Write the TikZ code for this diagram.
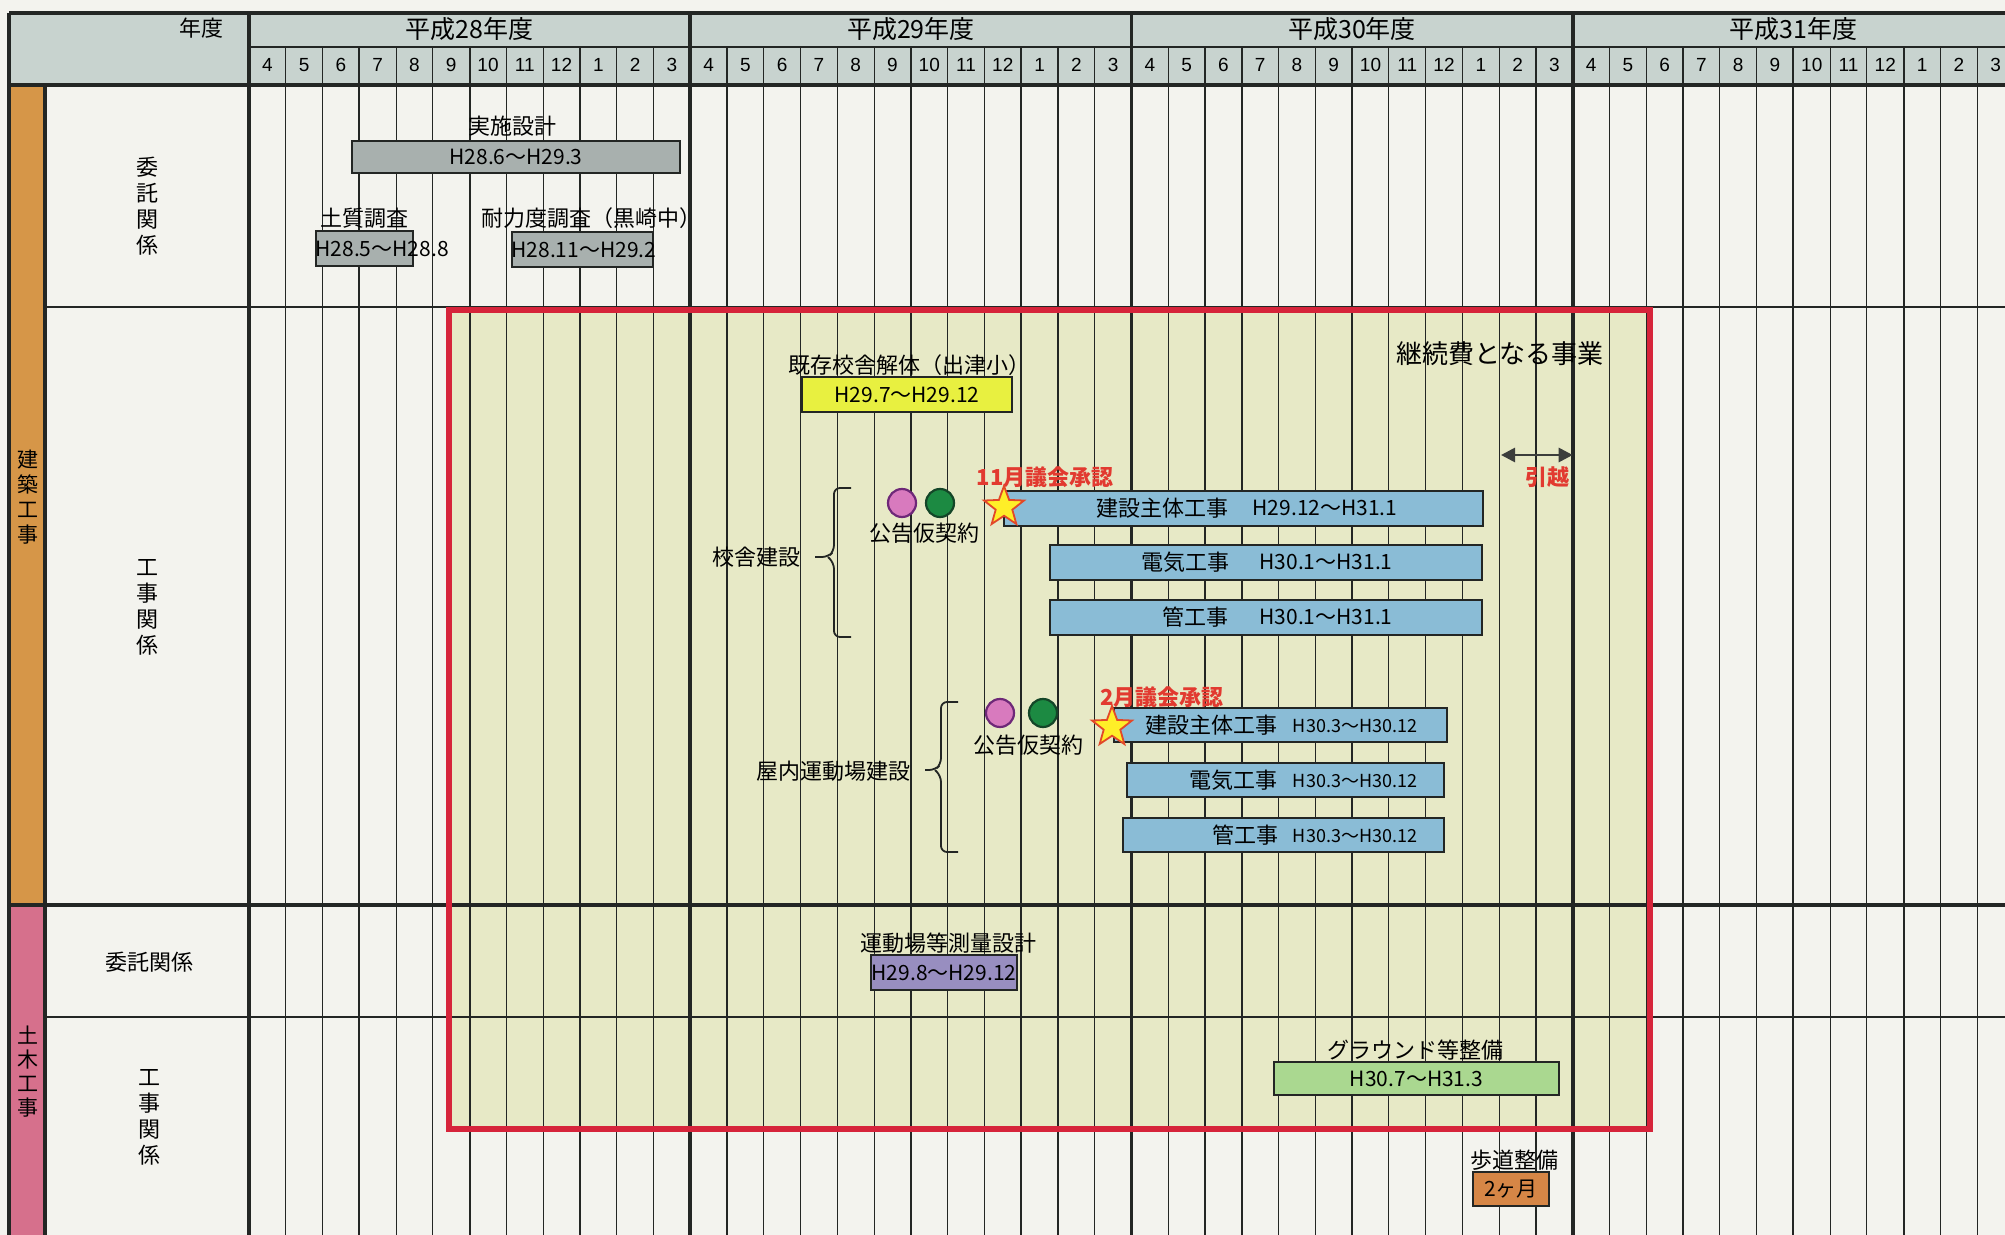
\documentclass[tikz,border=0pt]{standalone}
\usepackage{fontspec}
\setmainfont{Noto Sans CJK JP}
\newfontfamily\monthfont{Liberation Sans}
\usetikzlibrary{arrows.meta,fit,shapes.geometric}

\definecolor{paper}{RGB}{243,243,238}
\definecolor{hdr}{RGB}{200,211,207}
\definecolor{gridc}{RGB}{35,38,36}
\definecolor{zone}{RGB}{231,233,198}
\definecolor{zonered}{RGB}{214,36,58}
\definecolor{kenchiku}{RGB}{214,150,72}
\definecolor{doboku}{RGB}{214,112,140}
\definecolor{bargrey}{RGB}{168,176,174}
\definecolor{baryellow}{RGB}{232,240,64}
\definecolor{barblue}{RGB}{138,188,214}
\definecolor{barpurple}{RGB}{152,142,192}
\definecolor{bargreen}{RGB}{170,216,144}
\definecolor{barorange}{RGB}{214,134,70}
\definecolor{notered}{RGB}{226,58,48}
\definecolor{dotpink}{RGB}{216,122,190}
\definecolor{dotpinkrim}{RGB}{110,40,120}
\definecolor{dotgreen}{RGB}{28,138,66}
\definecolor{dotgreenrim}{RGB}{20,70,40}
\definecolor{staryellow}{RGB}{255,238,40}
\definecolor{starrim}{RGB}{226,72,40}
\definecolor{arrowc}{RGB}{60,62,60}

\newcommand{\xo}{249}
\newcommand{\mw}{36.77}

\tikzset{
  monthline/.style={draw=gridc, line width=0.55pt},
  quarterline/.style={draw=gridc, line width=0.9pt},
  yearline/.style={draw=gridc, line width=1.8pt},
  frameline/.style={draw=gridc, line width=2.2pt},
  rowline/.style={draw=gridc, line width=0.8pt},
  zoneframe/.style={draw=zonered, line width=3pt},
  bar/.style={draw=gridc, line width=0.9pt, inner sep=0pt},
  yearname/.style={font=\fontsize{12.5}{14}\selectfont, inner sep=0pt},
  monthnum/.style={font=\monthfont\fontsize{9.5}{11}\selectfont, inner sep=0pt},
  task/.style={font=\fontsize{11}{13}\selectfont, inner sep=0pt},
  period/.style={font=\fontsize{10.5}{12}\selectfont, inner sep=0pt},
  shortperiod/.style={font=\fontsize{9}{11}\selectfont, inner sep=0pt},
  vlabel/.style={align=center, font=\fontsize{11}{13}\selectfont, inner sep=0pt},
  striplabel/.style={align=center, inner sep=0pt},
  council/.style={text=notered, font=\bfseries\fontsize{11}{13}\selectfont, inner sep=0pt},
  dot/.style={circle, minimum size=14pt, inner sep=0pt, line width=1.1pt},
  approval/.style={star, star points=5, star point ratio=2.4, minimum size=21pt,
    inner sep=0pt, fill=staryellow, draw=starrim, line width=0.9pt},
  groupbrace/.style={draw=gridc, line width=0.9pt, rounded corners=3pt},
  movearrow/.style={{Triangle[length=7pt,width=7pt]}-{Triangle[length=7pt,width=7pt]},
    draw=arrowc, line width=1.4pt},
}

\begin{document}
\begin{tikzpicture}[x=0.5pt, y=-0.5pt]
  \useasboundingbox (0,0) rectangle (2005,1235);
  \clip (0,0) rectangle (2005,1235);
  \fill[paper] (0,0) rectangle (2005,1235);
  % header band and category strips
  \fill[hdr] (9,13) rectangle (2005,85);
  \fill[kenchiku] (9,85) rectangle (45,905);
  \fill[doboku] (9,905) rectangle (45,1235);
  % continuing-expense zone
  \fill[zone] (449,310) rectangle (1650,1129);

  % month grid
  \foreach \m in {0,...,48}
    \draw[monthline] ({\xo+\m*\mw},47) -- ({\xo+\m*\mw},1235);
  \foreach \m in {3,6,9,15,18,21,27,30,33,39,42,45}
    \draw[quarterline] ({\xo+\m*\mw},47) -- ({\xo+\m*\mw},1235);
  \foreach \m in {0,12,24,36,48}
    \draw[yearline] ({\xo+\m*\mw},13) -- ({\xo+\m*\mw},1235);
  \draw[frameline] (9,13) -- (2005,13);
  \draw[rowline] (\xo,47) -- (2005,47);
  \draw[frameline] (9,85) -- (2005,85);
  \draw[rowline] (45,307) -- (2005,307);
  \draw[frameline] (9,905) -- (2005,905);
  \draw[rowline] (45,1017) -- (2005,1017);
  \draw[frameline] (9,13) -- (9,1235);
  \draw[frameline] (45,85) -- (45,1235);

  % header texts
  \node[task] (nendo) at (201,28) {年度};
  \foreach \yr [count=\i from 0] in {28,29,30,31} {
    \node[yearname] (year\yr) at ({\xo+(\i*12+6)*\mw},29) {平成\yr 年度};
    \foreach \mo [count=\j from 0] in {4,5,6,7,8,9,10,11,12,1,2,3}
      \node[monthnum] (m\yr-\mo) at ({\xo+(\i*12+\j+0.5)*\mw},65) {\mo};
  }

  % row labels
  \node[striplabel, font=\fontsize{10.5}{12.6}\selectfont] (kenchikuL) at (28,497) {建\\築\\工\\事};
  \node[striplabel, font=\fontsize{10.5}{12}\selectfont] (dobokuL) at (28,1072) {土\\木\\工\\事};
  \node[vlabel] (itakuA) at (147,206) {委\\託\\関\\係};
  \node[vlabel] (kojiA) at (147,607) {工\\事\\関\\係};
  \node[task] (itakuB) at (149,962) {委託関係};
  \node[vlabel] (kojiB) at (149,1117) {工\\事\\関\\係};

  \draw[zoneframe] (449,310) rectangle (1650,1129);

  % commissioned work (architecture)
  \node[task] (jisshiL) at (512,126) {実施設計};
  \node[bar, fill=bargrey, fit={(352,141) (680,173)}] (jisshi) {};
  \node[period] (jisshiP) at (jisshi.center) {H28.6～H29.3};
  \node[task] (dositsuL) at (364,218) {土質調査};
  \node[bar, fill=bargrey, fit={(316,231) (413,266)}] (dositsu) {};
  \node[period, anchor=west] (dositsuP) at (dositsu.west) {H28.5～H28.8};
  \node[task] (tairyokuL) at (591,218) {耐力度調査（黒崎中）};
  \node[bar, fill=bargrey, fit={(512,232) (653,267)}] (tairyoku) {};
  \node[period, anchor=west] (tairyokuP) at (tairyoku.west) {H28.11～H29.2};

  % construction work (architecture)
  \node[task] (kaitaiL) at (909,365) {既存校舎解体（出津小）};
  \node[bar, fill=baryellow, fit={(802,377) (1012,412)}] (kaitai) {};
  \node[period] (kaitaiP) at (kaitai.center) {H29.7～H29.12};
  \node[font=\fontsize{13}{15}\selectfont, inner sep=0pt] (keizoku) at (1500,354) {継続費となる事業};
  \coordinate (hikkoshiW) at (1501,455);
  \coordinate (hikkoshiE) at (1572.7,455);
  \draw[movearrow] (hikkoshiW) -- (hikkoshiE);
  \node[council] (hikkoshi) at (1547,477) {引越};

  % school building
  \node[bar, fill=barblue, fit={(1004,491) (1483,526)}] (kenA) {};
  \node[task] (kenAL) at (1162,508) {建設主体工事};
  \node[period] (kenAP) at (1325,508) {H29.12～H31.1};
  \node[bar, fill=barblue, fit={(1050,545) (1482,580)}] (denA) {};
  \node[task] (denAL) at (1185,562) {電気工事};
  \node[period] (denAP) at (1326,562) {H30.1～H31.1};
  \node[bar, fill=barblue, fit={(1050,600) (1482,635)}] (kanA) {};
  \node[task] (kanAL) at (1195,617) {管工事};
  \node[period] (kanAP) at (1326,617) {H30.1～H31.1};
  \node[dot, fill=dotpink, draw=dotpinkrim] (kokokuA) at (902,503) {};
  \node[dot, fill=dotgreen, draw=dotgreenrim] (keiyakuA) at (940,503) {};
  \node[task] (kokokuAL) at (924,533) {公告仮契約};
  \node[approval] (shoninA) at (1004,507) {};
  \node[council] (shoninAL) at (1045,477) {11月議会承認};
  % bracket round the three school contracts
  \coordinate (koshaTip) at (815,557);
  \draw[groupbrace] (851,488) -- (834,488) -- (834,551) -- (828,557) -- (koshaTip);
  \draw[groupbrace] (828,557) -- (834,563) -- (834,637) -- (851,637);
  \node[task] (kosha) at (756,557) {校舎建設};

  % indoor gymnasium
  \node[bar, fill=barblue, fit={(1114,708) (1447,742)}] (kenB) {};
  \node[task] (kenBL) at (1211,725) {建設主体工事};
  \node[shortperiod] (kenBP) at (1355,726) {H30.3～H30.12};
  \node[bar, fill=barblue, fit={(1127,763) (1444,797)}] (denB) {};
  \node[task] (denBL) at (1233,780) {電気工事};
  \node[shortperiod] (denBP) at (1355,781) {H30.3～H30.12};
  \node[bar, fill=barblue, fit={(1123,818) (1444,852)}] (kanB) {};
  \node[task] (kanBL) at (1245,835) {管工事};
  \node[shortperiod] (kanBP) at (1355,836) {H30.3～H30.12};
  \node[dot, fill=dotpink, draw=dotpinkrim] (kokokuB) at (1000,713) {};
  \node[dot, fill=dotgreen, draw=dotgreenrim] (keiyakuB) at (1043,713) {};
  \node[task] (kokokuBL) at (1028,745) {公告仮契約};
  \node[approval] (shoninB) at (1112,727) {};
  \node[council] (shoninBL) at (1162,697) {2月議会承認};
  % bracket round the three gymnasium contracts
  \coordinate (taiikuTip) at (925,770);
  \draw[groupbrace] (958,702) -- (941,702) -- (941,764) -- (935,770) -- (taiikuTip);
  \draw[groupbrace] (935,770) -- (941,776) -- (941,852) -- (958,852);
  \node[task] (taiiku) at (833,771) {屋内運動場建設};

  % civil engineering
  \node[task] (sokuryoL) at (948,943) {運動場等測量設計};
  \node[bar, fill=barpurple, fit={(871,955) (1017,990)}] (sokuryo) {};
  \node[period] (sokuryoP) at (sokuryo.center) {H29.8～H29.12};
  \node[task] (groundL) at (1415,1050) {グラウンド等整備};
  \node[bar, fill=bargreen, fit={(1274,1062) (1559,1095)}] (ground) {};
  \node[period] (groundP) at (ground.center) {H30.7～H31.3};
  \node[task] (hodoL) at (1514,1160) {歩道整備};
  \node[bar, fill=barorange, fit={(1473,1172) (1549,1206)}] (hodo) {};
  \node[period] (hodoP) at (hodo.center) {2ヶ月};
\end{tikzpicture}
\end{document}
